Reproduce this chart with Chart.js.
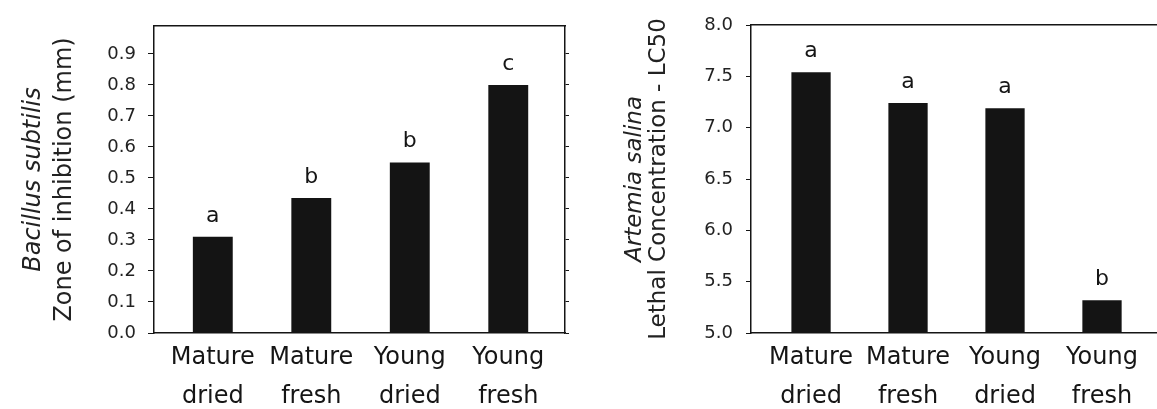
<!DOCTYPE html>
<html>
<head>
<meta charset="utf-8">
<script src="https://cdn.jsdelivr.net/npm/chart.js@4.4.1/dist/chart.umd.min.js"></script>
<style>
  body { margin: 0; background: #fff; }
  #wrap { position: relative; width: 1157px; height: 409px; }
  canvas { position: absolute; top: 0; }
  #left { left: 0; }
  #right { left: 578px; }
</style>
</head>
<body>
<div id="wrap">
  <canvas id="left" width="578" height="409"></canvas>
  <canvas id="right" width="579" height="409"></canvas>
</div>
<script>
// data
const categories = ['Mature dried', 'Mature fresh', 'Young dried', 'Young fresh'];
const inhibition = [0.31, 0.435, 0.55, 0.80];
const inhibitionLetters = ['a', 'b', 'b', 'c'];
const inhibitionTicks = [0.0, 0.1, 0.2, 0.3, 0.4, 0.5, 0.6, 0.7, 0.8, 0.9];
const lc50 = [7.54, 7.24, 7.19, 5.32];
const lc50Letters = ['a', 'a', 'a', 'b'];
const lc50Ticks = [5.0, 5.5, 6.0, 6.5, 7.0, 7.5, 8.0];

const ink = '#151515';
const family = '"DejaVu Sans", sans-serif';

// letters of significance above each bar
const letterPlugin = {
  id: 'letters',
  afterDatasetsDraw(chart, args, opts) {
    const ctx = chart.ctx;
    const meta = chart.getDatasetMeta(0);
    ctx.save();
    ctx.font = '22px ' + family;
    ctx.fillStyle = ink;
    ctx.textAlign = 'center';
    ctx.textBaseline = 'alphabetic';
    meta.data.forEach((bar, i) => ctx.fillText(opts.letters[i], bar.x, bar.y - 15));
    ctx.restore();
  }
};

function setTicks(list) {
  return axis => { axis.ticks = list.map(v => ({ value: v })); };
}

function buildChart(id, values, letters, yTicks, lay) {
  const scales = {
    x: {
      type: 'linear', position: 'bottom', min: lay.xMin, max: lay.xMax, offset: false,
      afterBuildTicks: setTicks(categories.map((c, i) => i)),
      ticks: {
        callback: v => categories[v].split(' '),
        font: { family: family, size: 24, lineHeight: 1.6 },
        color: ink, padding: 6, maxRotation: 0, autoSkip: false
      },
      grid: { display: false, drawTicks: false },
      border: { color: ink, width: 1.5 },
      afterFit: a => { a.height = 76; }
    },
    x2: {
      type: 'linear', axis: 'x', position: 'top', min: lay.xMin, max: lay.xMax,
      ticks: { display: false },
      grid: { display: false, drawTicks: false },
      border: { color: ink, width: 1.5 },
      afterFit: a => { a.height = 0; }
    },
    y: {
      type: 'linear', position: 'left', weight: 0, min: lay.yMin, max: lay.yMax,
      afterBuildTicks: setTicks(yTicks),
      ticks: {
        callback: v => v.toFixed(1),
        font: { family: family, size: 18 },
        color: '#222', padding: lay.tickPad
      },
      grid: { drawOnChartArea: false, tickLength: lay.tickLen, color: ink, lineWidth: 1 },
      border: { color: ink, width: 1.5 },
      title: {
        display: true, text: lay.title,
        font: { family: family, size: lay.titleSize }, color: '#222',
        padding: { top: lay.titlePad, bottom: 0 }
      },
      afterFit: a => { a.width = lay.yWidth; }
    },
    yTitle: {
      type: 'linear', position: 'left', weight: 10,
      ticks: { display: false },
      grid: { display: false, drawTicks: false },
      border: { display: false },
      title: {
        display: true, text: lay.species,
        font: { family: family, size: lay.speciesSize, style: 'italic' }, color: '#222',
        padding: { top: lay.speciesPad, bottom: 0 }
      },
      afterFit: a => { a.width = lay.speciesWidth; }
    }
  };
  if (lay.rightAxis) {
    scales.y2 = {
      type: 'linear', position: 'right', min: lay.yMin, max: lay.yMax,
      afterBuildTicks: setTicks(yTicks),
      ticks: { display: false },
      grid: { drawOnChartArea: false, tickLength: 4, color: ink, lineWidth: 1 },
      border: { color: ink, width: 1.5 },
      afterFit: a => { a.width = 13; }
    };
  }

  return new Chart(document.getElementById(id).getContext('2d'), {
    type: 'bar',
    data: {
      datasets: [{
        data: values.map((v, i) => ({ x: i, y: v })),
        backgroundColor: '#141414',
        borderWidth: 0,
        barPercentage: 0.405,
        categoryPercentage: 1
      }]
    },
    options: {
      responsive: false,
      animation: false,
      layout: { padding: { top: lay.top, left: 0, right: 0, bottom: 0 } },
      plugins: {
        legend: { display: false },
        tooltip: { enabled: false },
        letters: { letters: letters }
      },
      scales: scales
    },
    plugins: [letterPlugin]
  });
}

buildChart('left', inhibition, inhibitionLetters, inhibitionTicks, {
  xMin: -0.597, xMax: 3.576, yMin: 0, yMax: 0.99, top: 26,
  title: 'Zone of inhibition (mm)', titleSize: 24, titlePad: 5, yWidth: 109, tickPad: 12, tickLen: 6,
  species: 'Bacillus subtilis', speciesSize: 24, speciesPad: 19, speciesWidth: 45,
  rightAxis: true
});

buildChart('right', lc50, lc50Letters, lc50Ticks, {
  xMin: -0.619, xMax: 3.567, yMin: 5, yMax: 8, top: 25,
  title: 'Lethal Concentration - LC50', titleSize: 23, titlePad: 7, yWidth: 113, tickPad: 13, tickLen: 5,
  species: 'Artemia salina', speciesSize: 23, speciesPad: 43, speciesWidth: 60,
  rightAxis: false
});
</script>
</body>
</html>
